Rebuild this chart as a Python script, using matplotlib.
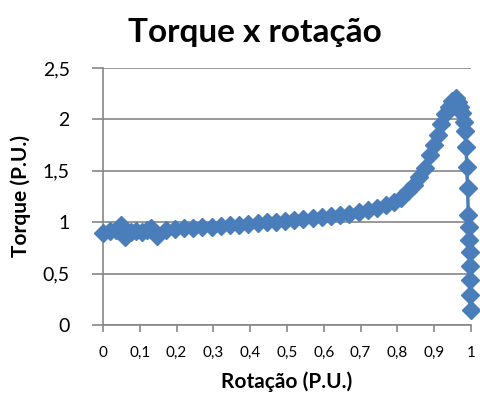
import numpy as np
import matplotlib
matplotlib.use("Agg")
import matplotlib.pyplot as plt

plt.rcParams['font.family'] = ['Lato', 'DejaVu Sans']

# torque x speed, both in per-unit
rotacao = [0.0, 0.02, 0.035, 0.05, 0.06, 0.075, 0.09, 0.105, 0.12, 0.13, 0.146,
           0.17, 0.195, 0.22, 0.245, 0.27, 0.295, 0.32, 0.345, 0.37, 0.395,
           0.42, 0.445, 0.47, 0.495, 0.52, 0.545, 0.57, 0.595, 0.62, 0.645,
           0.67, 0.695, 0.72, 0.745, 0.77, 0.79, 0.81, 0.83, 0.845, 0.86,
           0.875, 0.89, 0.90, 0.91, 0.92, 0.93, 0.94, 0.95, 0.96, 0.965,
           0.97, 0.975, 0.98, 0.984, 0.987, 0.989, 0.991, 0.993, 0.995,
           0.996, 0.997, 0.997, 0.998, 0.998, 0.999]
torque = [0.89, 0.91, 0.92, 0.97, 0.86, 0.90, 0.91, 0.90, 0.92, 0.94, 0.87,
          0.92, 0.93, 0.94, 0.945, 0.95, 0.955, 0.96, 0.97, 0.975, 0.98,
          0.99, 1.00, 1.005, 1.01, 1.02, 1.03, 1.04, 1.05, 1.06, 1.07,
          1.08, 1.10, 1.12, 1.14, 1.17, 1.20, 1.24, 1.30, 1.36, 1.44,
          1.53, 1.65, 1.75, 1.85, 1.96, 2.05, 2.12, 2.18, 2.21, 2.17,
          2.12, 2.06, 1.97, 1.89, 1.73, 1.54, 1.33, 1.07, 0.95,
          0.83, 0.71, 0.57, 0.44, 0.29, 0.15]

xticks = [0, 0.1, 0.2, 0.3, 0.4, 0.5, 0.6, 0.7, 0.8, 0.9, 1.0]
xlabels = ['0', '0,1', '0,2', '0,3', '0,4', '0,5', '0,6', '0,7', '0,8', '0,9', '1']
yticks = [0, 0.5, 1.0, 1.5, 2.0, 2.5]
ylabels = ['0', '0,5', '1', '1,5', '2', '2,5']

fig = plt.figure(figsize=(4.8, 3.97), dpi=100)
ax = fig.add_axes([0.2146, 0.1814, 0.7664, 0.6473])

cor = '#4a7ebb'
ax.plot(rotacao, torque, color=cor, lw=2.5, marker='D', ms=9.4,
        markerfacecolor=cor, markeredgecolor=cor, clip_on=False, zorder=3)

ax.set_xlim(0, 1)
ax.set_ylim(0, 2.5)
ax.set_xticks(xticks)
ax.set_xticklabels(xlabels, fontsize=11)
ax.set_yticks(yticks)
ax.set_yticklabels(ylabels, fontsize=14)

grid = '#868686'
ax.yaxis.grid(True, color=grid, lw=1.2)
ax.set_axisbelow(True)
for s in ['top', 'right']:
    ax.spines[s].set_visible(False)
for s in ['left', 'bottom']:
    ax.spines[s].set_color(grid)
    ax.spines[s].set_linewidth(1.2)
ax.tick_params(axis='y', length=8, width=1.2, color=grid, pad=16)
ax.tick_params(axis='x', length=5, width=1.2, color=grid, pad=10)

ax.set_xlabel('Rotação (P.U.)', fontsize=15, fontweight='bold', labelpad=8)
ax.set_ylabel('Torque (P.U.)', fontsize=15, fontweight='bold', labelpad=8)
fig.text(0.53, 0.918, 'Torque x rotação', fontsize=24, fontweight='bold',
         ha='center', va='center')

fig.savefig('out.png', dpi=100)
